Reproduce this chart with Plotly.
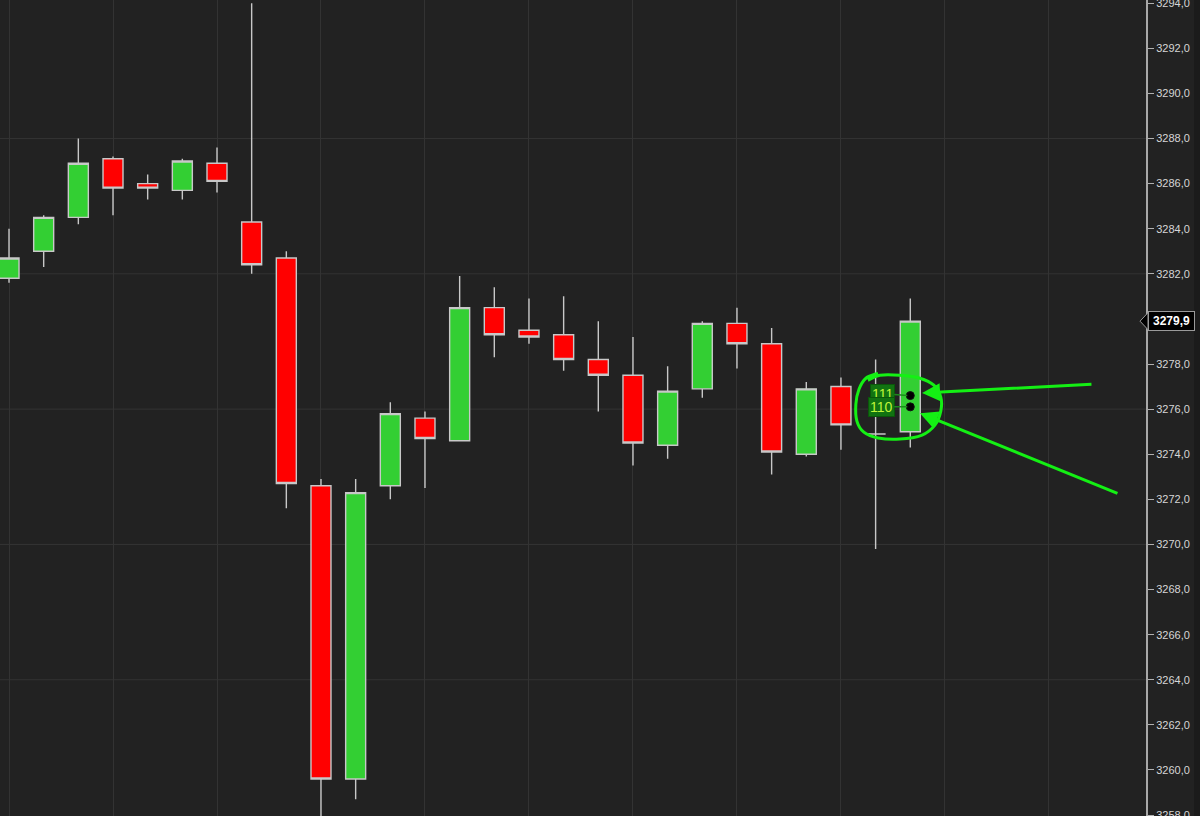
import plotly.graph_objects as go

# ---------------- data ----------------
bar_index = list(range(27))
open_ = [3281.8, 3283.0, 3284.5, 3287.1, 3286.0, 3285.7, 3286.9, 3284.3, 3282.7, 3272.6,
         3259.6, 3272.6, 3275.6, 3274.6, 3280.5, 3279.5, 3279.3, 3278.2, 3277.5, 3274.4,
         3276.9, 3279.8, 3278.9, 3274.0, 3277.0, 3274.9, 3275.0]
high = [3284.0, 3284.6, 3288.0, 3287.2, 3286.4, 3287.1, 3287.6, 3294.0, 3283.0, 3272.9,
        3272.9, 3276.3, 3275.9, 3281.9, 3281.4, 3280.9, 3281.0, 3279.9, 3279.2, 3277.9,
        3279.9, 3280.5, 3279.6, 3277.2, 3277.4, 3278.2, 3280.9]
low = [3281.6, 3282.3, 3284.2, 3284.6, 3285.3, 3285.3, 3285.6, 3282.0, 3271.6, 3257.5,
       3258.7, 3272.0, 3272.5, 3274.6, 3278.3, 3278.9, 3277.7, 3275.9, 3273.5, 3273.8,
       3276.5, 3277.8, 3273.1, 3273.9, 3274.2, 3269.8, 3274.3]
close = [3282.7, 3284.5, 3286.9, 3285.8, 3285.8, 3287.0, 3286.1, 3282.4, 3272.7, 3259.6,
         3272.3, 3275.8, 3274.7, 3280.5, 3279.3, 3279.2, 3278.2, 3277.5, 3274.5, 3276.8,
         3279.8, 3278.9, 3274.1, 3276.9, 3275.3, 3274.9, 3279.9]

# order-flow level markers on the last bar
level_labels = ["111", "110"]
level_prices = [3276.6, 3276.1]

y_range = [3257.96, 3294.14]
x_range = [-0.26, 32.8]
grid_levels = [3264, 3270, 3276, 3282, 3288]
price_ticks = [3258, 3260, 3262, 3264, 3266, 3268, 3270, 3272, 3274, 3276, 3278,
               3282, 3284, 3286, 3288, 3290, 3292, 3294]

# hand-drawn markup (bar index, price)
circle_x = [24.78, 25.12, 25.70, 26.28, 26.68, 26.88, 26.88, 26.71, 26.34, 25.70, 25.07, 24.66, 24.46, 24.43, 24.52, 24.72, 25.07]
circle_y = [3277.28, 3277.50, 3277.50, 3277.37, 3277.06, 3276.53, 3275.91, 3275.29, 3274.85, 3274.67, 3274.72, 3274.98, 3275.47, 3276.22, 3276.88, 3277.37, 3277.59]
arrow_tip_x = [26.34, 26.28]
arrow_tip_y = [3276.71, 3275.82]
arrow_tail_x = [31.27, 32.02]
arrow_tail_y = [3277.11, 3272.24]

BG = "#222222"
GRID = "#333333"
GREEN = "#33CF33"
RED = "#FF0000"
OUTLINE = "#c8c8c8"
MARK = "#14f014"

fig = go.Figure()

fig.add_trace(go.Candlestick(
    x=bar_index, open=open_, high=high, low=low, close=close,
    increasing=dict(fillcolor=GREEN, line=dict(color=OUTLINE, width=1.4)),
    decreasing=dict(fillcolor=RED, line=dict(color=OUTLINE, width=1.4)),
    whiskerwidth=0, showlegend=False, hoverinfo="skip",
))

fig.add_trace(go.Scatter(
    x=[bar_index[-1]] * len(level_prices), y=level_prices, mode="markers",
    marker=dict(color="#000000", size=8, line=dict(color="#111111", width=1)),
    showlegend=False, hoverinfo="skip",
))

shapes = []
for g in grid_levels:
    shapes.append(dict(type="line", xref="paper", yref="y", x0=0, x1=1, y0=g, y1=g,
                       line=dict(color=GRID, width=1), layer="below"))

# smooth closed path through the circle points (Catmull-Rom -> Bezier)
pts = list(zip(circle_x, circle_y))
n = len(pts)
path = f"M {pts[0][0]},{pts[0][1]}"
for i in range(n - 1):
    p0 = pts[i - 1] if i > 0 else pts[i]
    p1 = pts[i]
    p2 = pts[i + 1]
    p3 = pts[i + 2] if i + 2 < n else pts[i + 1]
    c1 = (p1[0] + (p2[0] - p0[0]) / 6, p1[1] + (p2[1] - p0[1]) / 6)
    c2 = (p2[0] - (p3[0] - p1[0]) / 6, p2[1] - (p3[1] - p1[1]) / 6)
    path += f" C {c1[0]},{c1[1]} {c2[0]},{c2[1]} {p2[0]},{p2[1]}"
shapes.append(dict(type="path", path=path, xref="x", yref="y",
                   line=dict(color=MARK, width=3)))

# right border strip
shapes.append(dict(type="rect", xref="paper", yref="paper", x0=1194 / 1146, x1=1.1,
                   y0=0, y1=1, fillcolor="#1b1b1b", line=dict(width=0), layer="below"))

# last price pointer
last = close[-1]
half = 8.5 / 22.6
shapes.append(dict(type="path", xref="paper", yref="y",
                   path=f"M {1140/1146},{last} L {1148/1146},{last+half} L {1148/1146},{last-half} Z",
                   fillcolor="#000000", line=dict(color="#9a9a9a", width=1)))

annotations = []
offsets = [(-28, -2), (-29, 0)]
for lab, pr, (ax, ay) in zip(level_labels, level_prices, offsets):
    annotations.append(dict(
        x=bar_index[-1], y=pr, xref="x", yref="y", text=lab,
        showarrow=True, arrowhead=0, arrowwidth=1.5, arrowcolor="#1e8a1e",
        ax=ax, ay=ay, standoff=3,
        font=dict(family="Arial, Liberation Sans", size=14, color="#bff53a"),
        bgcolor="#117311", bordercolor="#0a560a", borderwidth=1, borderpad=1,
    ))

for tx, ty, sx, sy in zip(arrow_tip_x, arrow_tip_y, arrow_tail_x, arrow_tail_y):
    annotations.append(dict(
        x=tx, y=ty, xref="x", yref="y", ax=sx, ay=sy, axref="x", ayref="y",
        text="", showarrow=True, arrowhead=2, arrowsize=1.2, arrowwidth=3,
        arrowcolor=MARK,
    ))

annotations.append(dict(
    x=1147.5 / 1146, y=last, xref="paper", yref="y", xanchor="left", yanchor="middle",
    text="<b>" + f"{last:.1f}".replace(".", ",") + "</b>", showarrow=False,
    font=dict(family="Arial, Liberation Sans", size=12, color="#ffffff"),
    bgcolor="#000000", bordercolor="#9a9a9a", borderwidth=1, borderpad=2, width=41,
))

fig.update_layout(
    width=1200, height=816,
    margin=dict(l=0, r=54, t=0, b=0, autoexpand=False),
    paper_bgcolor=BG, plot_bgcolor=BG,
    separators=",.",
    boxgap=0.176, boxgroupgap=0.3,
    shapes=shapes, annotations=annotations,
    showlegend=False,
    xaxis=dict(range=x_range, rangeslider=dict(visible=False), showgrid=True,
               gridcolor=GRID, gridwidth=1, dtick=3, tick0=0, showticklabels=False,
               ticks="", zeroline=False, showline=False, fixedrange=True,
               automargin=False),
    yaxis=dict(range=y_range, side="right", tickmode="array", tickvals=price_ticks,
               tickformat=".1f", ticklabeloverflow="allow", automargin=False,
               showgrid=False, zeroline=False, ticks="outside", ticklen=6,
               tickcolor="#b0b0b0", showline=True, linecolor="#a8a8a8", linewidth=2,
               tickfont=dict(family="Arial, Liberation Sans", size=11, color="#d6d6d6"),
               fixedrange=True),
)

fig.write_html("out.html")
